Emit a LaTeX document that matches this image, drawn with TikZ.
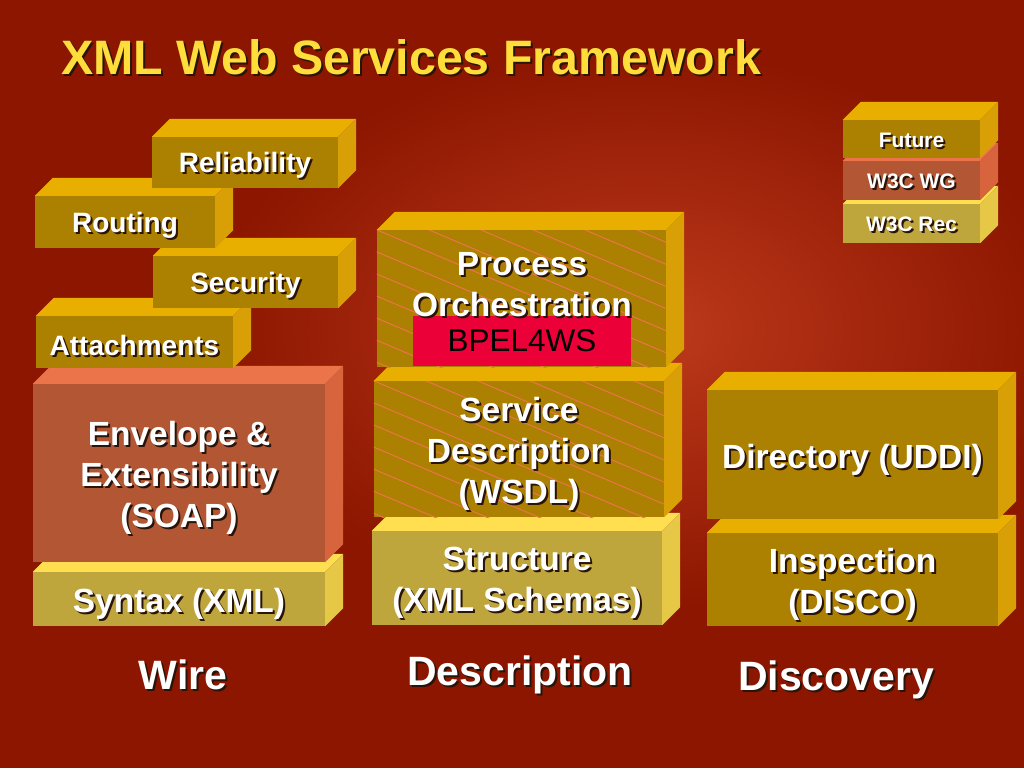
\documentclass[tikz,border=0pt]{standalone}
\usepackage{fontspec}
\setmainfont{Liberation Sans}
\usetikzlibrary{calc}

\definecolor{bg}{RGB}{140,22,0}
\definecolor{bgL}{RGB}{190,58,28}
\definecolor{goldF}{RGB}{172,128,0}
\definecolor{goldT}{RGB}{232,174,0}
\definecolor{goldR}{RGB}{216,160,6}
\definecolor{oliveF}{RGB}{190,165,60}
\definecolor{oliveT}{RGB}{255,222,80}
\definecolor{oliveR}{RGB}{230,200,70}
\definecolor{salmonF}{RGB}{178,86,52}
\definecolor{salmonT}{RGB}{236,116,74}
\definecolor{salmonR}{RGB}{216,100,62}
\definecolor{bpel}{RGB}{236,0,56}
\definecolor{titleY}{RGB}{255,222,60}
\definecolor{shade}{RGB}{40,20,10}

\tikzset{
  front/.style={rectangle, inner sep=0pt, fill=#1F},
  txt/.style={text=white, align=center, inner sep=0pt},
  fsmall/.style={font=\fontsize{28}{33}\selectfont\bfseries, yshift=-3pt},
  fbig/.style={font=\fontsize{33.5}{41}\selectfont\bfseries, yshift=-5pt},
  flegend/.style={font=\fontsize{21}{25}\selectfont\bfseries, yshift=-1pt},
  fcol/.style={font=\fontsize{41}{48}\selectfont\bfseries},
  hatch/.style={draw=salmonT, line width=1pt}
}

% top and right faces of a block
\newcommand\faces[2]{%
  \fill[#2T] (#1.north west) -- ([shift={(18pt,18pt)}]#1.north west)
    -- ([shift={(18pt,18pt)}]#1.north east) -- (#1.north east) -- cycle;
  \fill[#2R] (#1.north east) -- ([shift={(18pt,18pt)}]#1.north east)
    -- ([shift={(18pt,18pt)}]#1.south east) -- (#1.south east) -- cycle;}

% white text with a dark shadow
\newcommand\shtext[4]{%
  \node[txt, #3, text=shade, xshift=2pt, yshift=-2pt] (#1s) at (#2) {#4};
  \node[txt, #3] (#1t) at (#2) {#4};}

\begin{document}
\begin{tikzpicture}[x=1pt, y=-1pt]
  \useasboundingbox (0,0) rectangle (1024,768);
  % background
  \begin{scope}
    \clip (0,0) rectangle (1024,768);
    \fill[bg] (0,0) rectangle (1024,768);
    \shade[inner color=bgL, outer color=bg] (640,330) ellipse (430 and 280);
  \end{scope}

  % title
  \node[txt, font=\fontsize{48.3}{56}\selectfont\bfseries, text=shade, anchor=west] (titles) at (63,59) {XML Web Services Framework};
  \node[txt, font=\fontsize{48.3}{56}\selectfont\bfseries, text=titleY, anchor=west] (title) at (61,57) {XML Web Services Framework};

  % wire column
  \node[front=olive, minimum width=292pt, minimum height=54pt] (syn) at (179,599) {};
  \faces{syn}{olive}
  \shtext{syn}{syn}{fbig}{Syntax (XML)}
  \node[front=salmon, minimum width=292pt, minimum height=178pt] (env) at (179,473) {};
  \faces{env}{salmon}
  \shtext{env}{env}{fbig}{Envelope \&\\Extensibility\\(SOAP)}
  \node[front=gold, minimum width=197pt, minimum height=52pt] (att) at (134.5,342) {};
  \faces{att}{gold}
  \shtext{att}{att}{fsmall}{Attachments}
  \node[front=gold, minimum width=185pt, minimum height=52pt] (sec) at (245.5,282) {};
  \faces{sec}{gold}
  \shtext{sec}{sec}{fsmall}{Security}
  \node[front=gold, minimum width=180pt, minimum height=52pt] (rout) at (125,222) {};
  \faces{rout}{gold}
  \shtext{rout}{rout}{fsmall}{Routing}
  \node[front=gold, minimum width=186pt, minimum height=51pt] (rel) at (245,162.5) {};
  \faces{rel}{gold}
  \shtext{rel}{rel}{fsmall}{Reliability}

  % description column
  \node[front=olive, minimum width=290pt, minimum height=94pt] (struct) at (517,578) {};
  \faces{struct}{olive}
  \shtext{struct}{struct}{fbig}{Structure\\(XML Schemas)}
  \node[front=gold, minimum width=290pt, minimum height=136pt] (wsdl) at (519,449) {};
  \begin{scope}
    \clip (wsdl.south west) rectangle (wsdl.north east);
    \foreach \i in {-7,...,6}
      \draw[hatch] ([xshift=\i*52pt]wsdl.north west) -- ++(400,170);
  \end{scope}
  \faces{wsdl}{gold}
  \shtext{wsdl}{wsdl}{fbig}{Service\\Description\\(WSDL)}
  \node[front=gold, minimum width=289pt, minimum height=137pt] (proc) at (521.5,298.5) {};
  \begin{scope}
    \clip (proc.south west) rectangle (proc.north east);
    \foreach \i in {-7,...,6}
      \draw[hatch] ([xshift=\i*52pt]proc.north west) -- ++(400,170);
  \end{scope}
  \faces{proc}{gold}
  \node[rectangle, inner sep=0pt, fill=bpel, minimum width=218pt, minimum height=50pt,
    font=\fontsize{31.5}{36}\selectfont, text=black] (bpel) at (522,341) {BPEL4WS};
  \shtext{proc}{522,280}{fbig}{Process\\Orchestration}

  % discovery column
  \node[front=gold, minimum width=291pt, minimum height=93pt] (disco) at (852.5,579.5) {};
  \faces{disco}{gold}
  \shtext{disco}{disco}{fbig}{Inspection\\(DISCO)}
  \node[front=gold, minimum width=291pt, minimum height=129pt] (uddi) at (852.5,454.5) {};
  \faces{uddi}{gold}
  \shtext{uddi}{uddi}{fbig}{Directory (UDDI)}

  % legend
  \node[front=olive, minimum width=137pt, minimum height=39pt] (rec) at (911.5,223.5) {};
  \faces{rec}{olive}
  \shtext{rec}{rec}{flegend}{W3C Rec}
  \node[front=salmon, minimum width=137pt, minimum height=39pt] (wg) at (911.5,180.5) {};
  \faces{wg}{salmon}
  \shtext{wg}{wg}{flegend}{W3C WG}
  \node[front=gold, minimum width=137pt, minimum height=38pt] (fut) at (911.5,139) {};
  \faces{fut}{gold}
  \shtext{fut}{fut}{flegend}{Future}

  % column names
  \shtext{wire}{183,675}{fcol}{Wire}
  \shtext{descr}{520,675}{fcol}{Description}
  \shtext{disc}{836,680}{fcol}{Discovery}
\end{tikzpicture}
\end{document}
